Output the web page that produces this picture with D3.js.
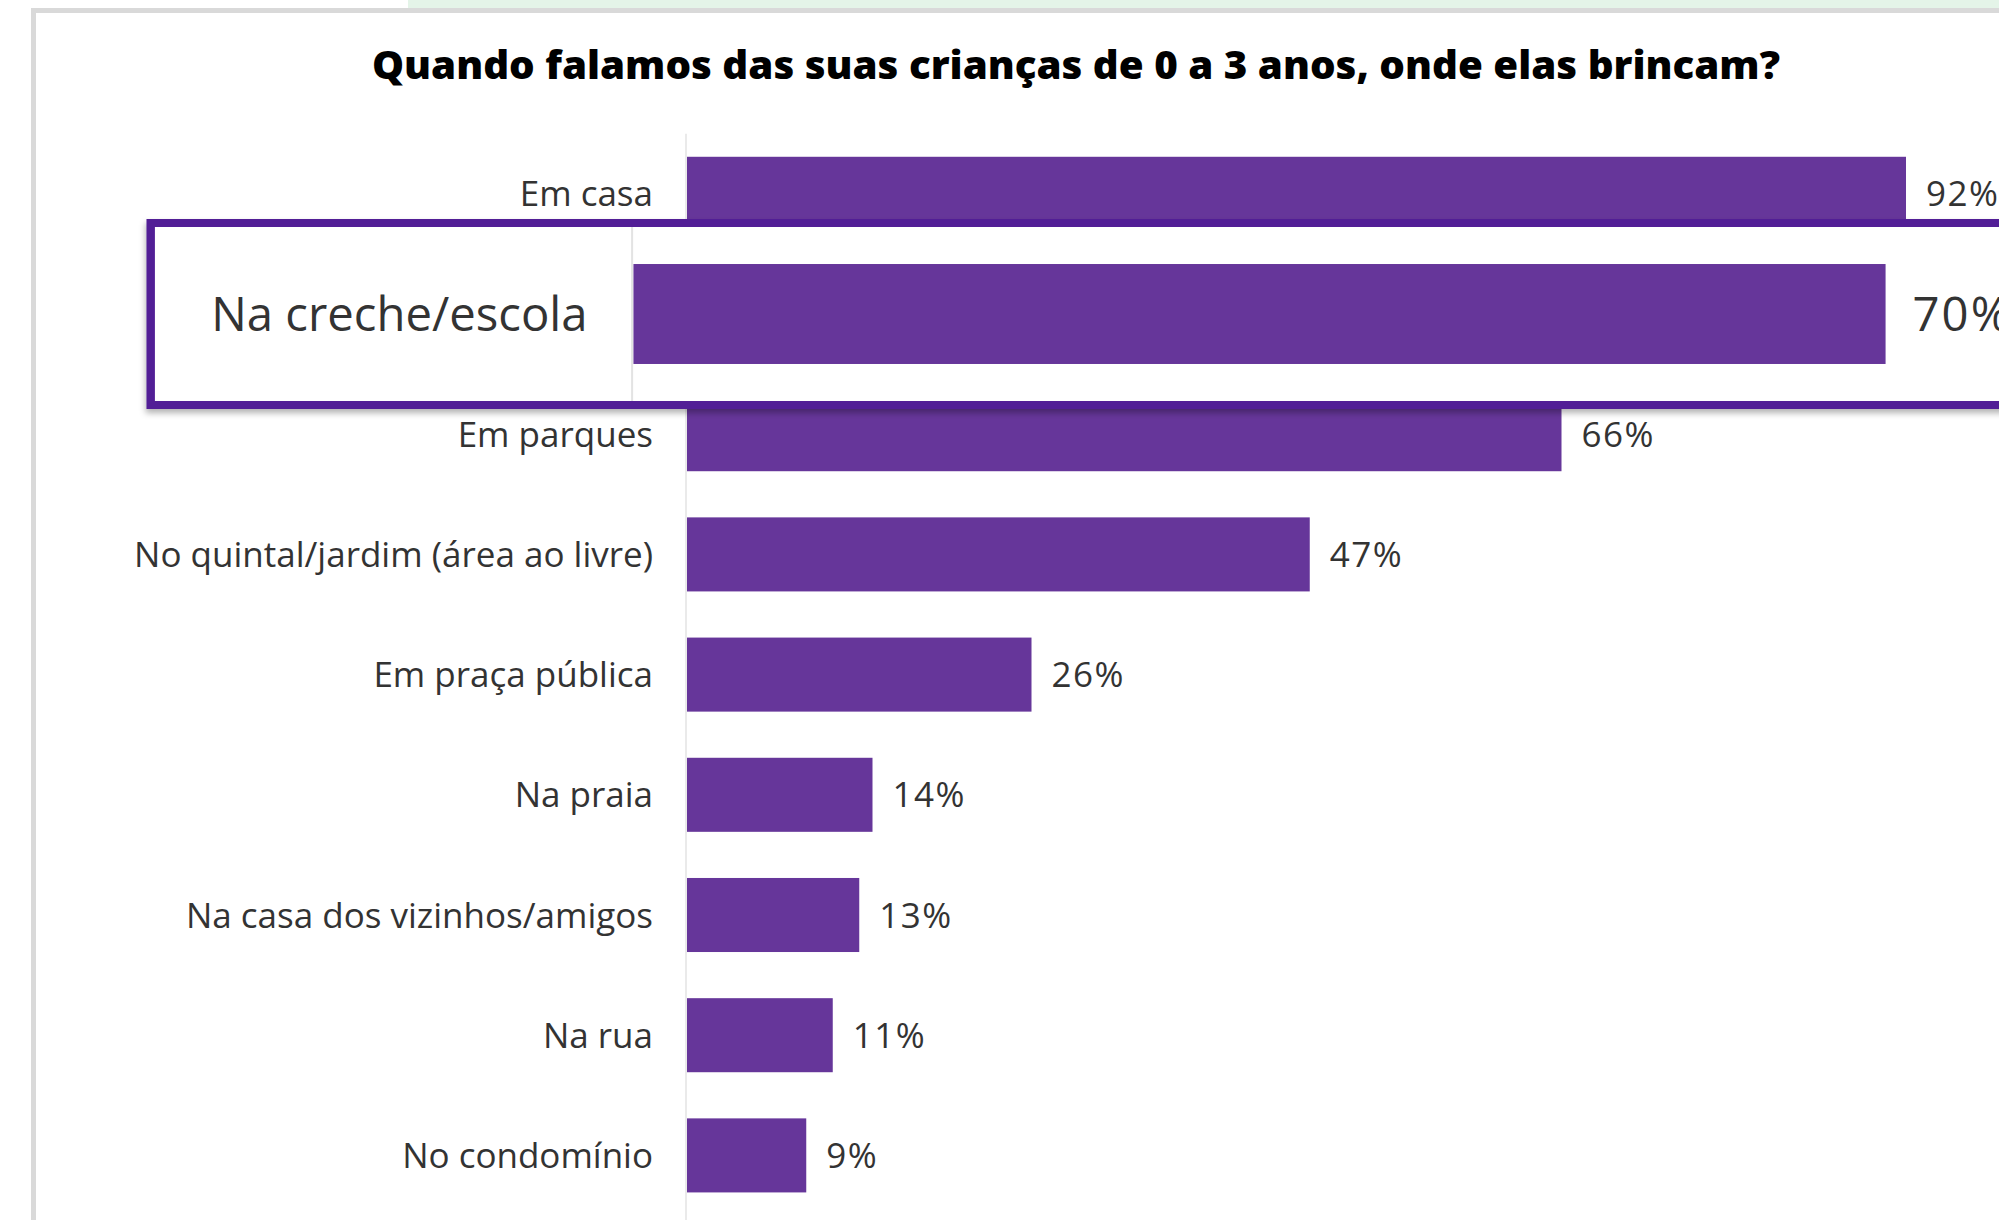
<!DOCTYPE html>
<html>
<head>
<meta charset="utf-8">
<script src="https://cdn.jsdelivr.net/npm/d3@7"></script>
<style>
  html, body { margin: 0; padding: 0; background: #fff; overflow: hidden; }
  svg { display: block; }
</style>
</head>
<body>
<div id="wrapper"></div>
<script>
// data
const title = "Quando falamos das suas crianças de 0 a 3 anos, onde elas brincam?"
const categories = [
  "Em casa",
  "Na creche/escola",
  "Em parques",
  "No quintal/jardim (área ao livre)",
  "Em praça pública",
  "Na praia",
  "Na casa dos vizinhos/amigos",
  "Na rua",
  "No condomínio",
]
const values = [92, 70, 66, 47, 26, 14, 13, 11, 9]
const highlighted = "Na creche/escola"

function drawChart() {
  const dataset = categories.map((c, i) => ({ cat: c, value: values[i] }))
  const xAccessor = d => d.value
  const yAccessor = d => d.cat

  const dimensions = {
    width: 1999,
    height: 1220,
    barLeft: 687,
    perPoint: 13.25,
    top: 133.7,
    bottom: 1215.5,
  }

  const purple = "#66369a"
  const boxPurple = "#521e96"
  const textColor = "#333"
  const font = "'Open Sans', 'Noto Sans', sans-serif"
  const fontSize = 35

  const svg = d3.select("#wrapper")
    .append("svg")
      .attr("width", dimensions.width)
      .attr("height", dimensions.height)

  // page frame around the slide
  svg.append("rect")
      .attr("x", 408).attr("y", 0)
      .attr("width", dimensions.width - 408).attr("height", 8)
      .attr("fill", "#e4f4e8")
  svg.append("rect")
      .attr("x", 31).attr("y", 8)
      .attr("width", dimensions.width - 31).attr("height", 5)
      .attr("fill", "#d9d9d9")
  svg.append("rect")
      .attr("x", 31).attr("y", 8)
      .attr("width", 5).attr("height", dimensions.height - 8)
      .attr("fill", "#d9d9d9")

  // title
  svg.append("text")
      .attr("x", 1076)
      .attr("y", 79)
      .attr("text-anchor", "middle")
      .attr("font-family", font)
      .attr("font-weight", 800)
      .attr("font-size", 38)
      .attr("textLength", 1408)
      .attr("lengthAdjust", "spacingAndGlyphs")
      .attr("fill", "#000")
      .text(title)

  // scales
  const xScale = d3.scaleLinear()
    .domain([0, 100])
    .range([dimensions.barLeft, dimensions.barLeft + 100 * dimensions.perPoint])

  const yScale = d3.scaleBand()
    .domain(categories)
    .range([dimensions.top, dimensions.bottom])
    .paddingInner(0.384)
    .paddingOuter(0.192)

  // rows: bar + value + label, reused for the zoom call-out
  function drawRows(g, rows, lineTop, lineBottom, withText) {
    g.append("line")
        .attr("x1", xScale(0) - 1).attr("x2", xScale(0) - 1)
        .attr("y1", lineTop).attr("y2", lineBottom)
        .attr("stroke", "#e3e3e3")
        .attr("stroke-width", 1.5)

    g.selectAll("rect.bar")
      .data(rows)
      .join("rect")
        .attr("class", "bar")
        .attr("x", xScale(0))
        .attr("y", d => yScale(yAccessor(d)))
        .attr("width", d => xScale(xAccessor(d)) - xScale(0))
        .attr("height", yScale.bandwidth())
        .attr("fill", purple)

    const textRows = rows.filter(withText)

    g.selectAll("text.value")
      .data(textRows)
      .join("text")
        .attr("class", "value")
        .attr("x", d => xScale(xAccessor(d)) + 20)
        .attr("y", d => yScale(yAccessor(d)) + yScale.bandwidth() / 2)
        .attr("dy", "0.36em")
        .attr("font-family", font)
        .attr("font-size", fontSize)
        .attr("letter-spacing", 1.5)
        .attr("fill", textColor)
        .text(d => d.value + "%")

    g.selectAll("text.label")
      .data(textRows)
      .join("text")
        .attr("class", "label")
        .attr("x", xScale(0) - 34)
        .attr("y", d => yScale(yAccessor(d)) + yScale.bandwidth() / 2)
        .attr("dy", "0.36em")
        .attr("text-anchor", "end")
        .attr("font-family", font)
        .attr("font-size", fontSize)
        .attr("fill", textColor)
        .text(yAccessor)
  }

  const bounds = svg.append("g")
  // highlighted row's texts sit under the call-out, so only its bar is drawn here
  drawRows(bounds, dataset, dimensions.top, dimensions.height, d => d.cat !== highlighted)

  // zoomed call-out for the highlighted row
  const zoom = 1.35
  const zoomCx = 840
  const hRow = dataset.find(d => d.cat === highlighted)
  const cy = yScale(highlighted) + yScale.bandwidth() / 2
  const halfBox = 91
  const boxLeft = 150.7
  const stroke = 8

  const defs = svg.append("defs")
  const shadow = defs.append("filter")
      .attr("id", "shadow")
      .attr("x", "-5%").attr("y", "-20%")
      .attr("width", "110%").attr("height", "150%")
  shadow.append("feDropShadow")
      .attr("dx", -1).attr("dy", 4)
      .attr("stdDeviation", 3)
      .attr("flood-color", "#000")
      .attr("flood-opacity", 0.3)

  defs.append("clipPath")
      .attr("id", "boxClip")
    .append("rect")
      .attr("x", boxLeft + stroke / 2)
      .attr("y", cy - halfBox + stroke / 2)
      .attr("width", dimensions.width)
      .attr("height", halfBox * 2 - stroke)

  const callout = svg.append("g")

  callout.append("rect")
      .attr("x", boxLeft)
      .attr("y", cy - halfBox)
      .attr("width", dimensions.width)
      .attr("height", halfBox * 2)
      .attr("fill", "#fff")
      .attr("stroke", boxPurple)
      .attr("stroke-width", stroke)
      .attr("filter", "url(#shadow)")

  const inner = callout.append("g")
      .attr("clip-path", "url(#boxClip)")
    .append("g")
      .attr("transform", `translate(${zoomCx},${cy}) scale(${zoom}) translate(${-zoomCx},${-cy})`)

  drawRows(inner, [hRow], cy - halfBox, cy + halfBox, () => true)

  callout.append("rect")
      .attr("x", boxLeft)
      .attr("y", cy - halfBox)
      .attr("width", dimensions.width)
      .attr("height", halfBox * 2)
      .attr("fill", "none")
      .attr("stroke", boxPurple)
      .attr("stroke-width", stroke)
}
drawChart()
</script>
</body>
</html>
